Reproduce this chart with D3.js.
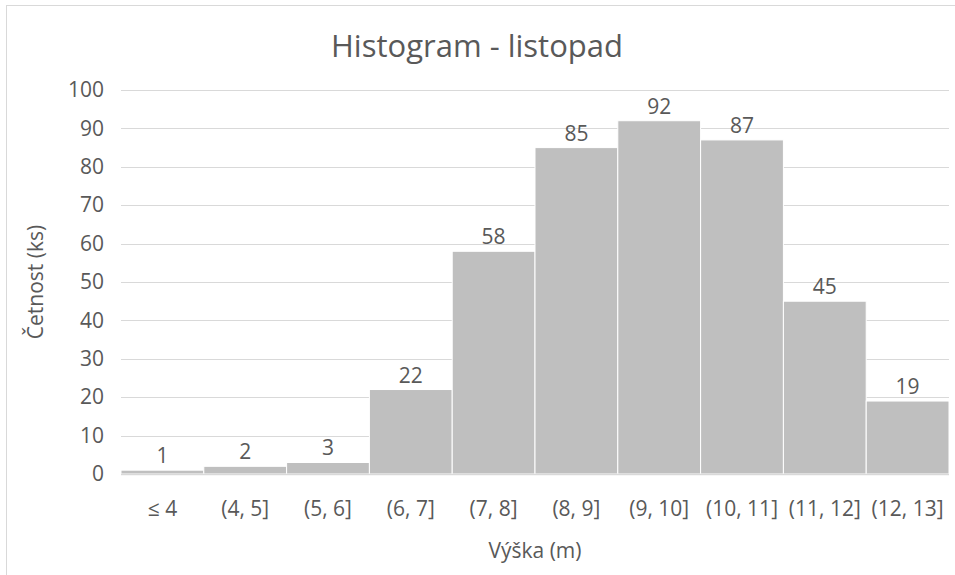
<!DOCTYPE html>
<html>
<head>
<meta charset="utf-8">
<script src="https://cdn.jsdelivr.net/npm/d3@7"></script>
<style>
  body { margin: 0; background: #fff; }
  text { font-family: "Open Sans", "Noto Sans", sans-serif; fill: #595959; }
</style>
</head>
<body>
<svg id="chart"></svg>
<script>
// histogram bins and counts
const bins = ['≤ 4', '(4, 5]', '(5, 6]', '(6, 7]', '(7, 8]', '(8, 9]', '(9, 10]', '(10, 11]', '(11, 12]', '(12, 13]'];
const counts = [1, 2, 3, 22, 58, 85, 92, 87, 45, 19];
const yTicks = [0, 10, 20, 30, 40, 50, 60, 70, 80, 90, 100];

const width = 955, height = 575;
const margin = {top: 90, right: 6, bottom: 101, left: 121};

const svg = d3.select('#chart')
    .attr('width', width)
    .attr('height', height);

// outer chart frame
svg.append('rect')
    .attr('x', 6.5).attr('y', 5.5)
    .attr('width', 970).attr('height', 600)
    .attr('fill', 'none')
    .attr('stroke', '#d9d9d9');

const innerW = width - margin.left - margin.right;
const innerH = height - margin.top - margin.bottom;

const g = svg.append('g')
    .attr('transform', `translate(${margin.left},${margin.top})`);

const x = d3.scaleBand()
    .domain(bins)
    .range([0, innerW])
    .padding(0);

const y = d3.scaleLinear()
    .domain([0, 100])
    .range([innerH, 0]);

// gridlines
g.append('g')
    .selectAll('line')
    .data(yTicks)
    .join('line')
    .attr('x1', 0).attr('x2', innerW)
    .attr('y1', d => Math.round(y(d)) + 0.5)
    .attr('y2', d => Math.round(y(d)) + 0.5)
    .attr('stroke', '#d9d9d9')
    .attr('stroke-width', 1);

// bars
g.append('g')
    .selectAll('rect')
    .data(counts)
    .join('rect')
    .attr('x', (d, i) => x(bins[i]))
    .attr('y', d => y(d))
    .attr('width', x.bandwidth())
    .attr('height', d => innerH - y(d))
    .attr('fill', '#bfbfbf')
    .attr('stroke', '#ffffff')
    .attr('stroke-width', 1);

// x axis line
g.append('line')
    .attr('x1', 0).attr('x2', innerW)
    .attr('y1', innerH + 0.5).attr('y2', innerH + 0.5)
    .attr('stroke', '#d9d9d9')
    .attr('stroke-width', 1.5);

// data labels
g.append('g')
    .selectAll('text')
    .data(counts)
    .join('text')
    .attr('x', (d, i) => x(bins[i]) + x.bandwidth() / 2)
    .attr('y', d => y(d) - 7)
    .attr('text-anchor', 'middle')
    .attr('font-size', 21)
    .text(d => d);

// y axis labels
const yAxis = d3.axisLeft(y).tickValues(yTicks).tickSize(0).tickPadding(17);
g.append('g')
    .call(yAxis)
    .call(a => a.select('.domain').remove())
    .selectAll('text')
    .attr('font-size', 21)
    .style('font-family', '"Open Sans", sans-serif')
    .attr('fill', '#595959');

// x axis labels
const xAxis = d3.axisBottom(x).tickSize(0).tickPadding(27);
g.append('g')
    .attr('transform', `translate(0,${innerH})`)
    .call(xAxis)
    .call(a => a.select('.domain').remove())
    .selectAll('text')
    .attr('font-size', 21)
    .style('font-family', '"Open Sans", sans-serif')
    .attr('fill', '#595959');

// title
svg.append('text')
    .attr('x', 477)
    .attr('y', 57)
    .attr('text-anchor', 'middle')
    .attr('font-size', 31)
    .text('Histogram - listopad');

// axis titles
svg.append('text')
    .attr('x', 535)
    .attr('y', 558)
    .attr('text-anchor', 'middle')
    .attr('font-size', 21)
    .text('Výška (m)');

svg.append('text')
    .attr('transform', `translate(43,${margin.top + innerH / 2}) rotate(-90)`)
    .attr('text-anchor', 'middle')
    .attr('font-size', 21)
    .text('Četnost (ks)');
</script>
</body>
</html>
